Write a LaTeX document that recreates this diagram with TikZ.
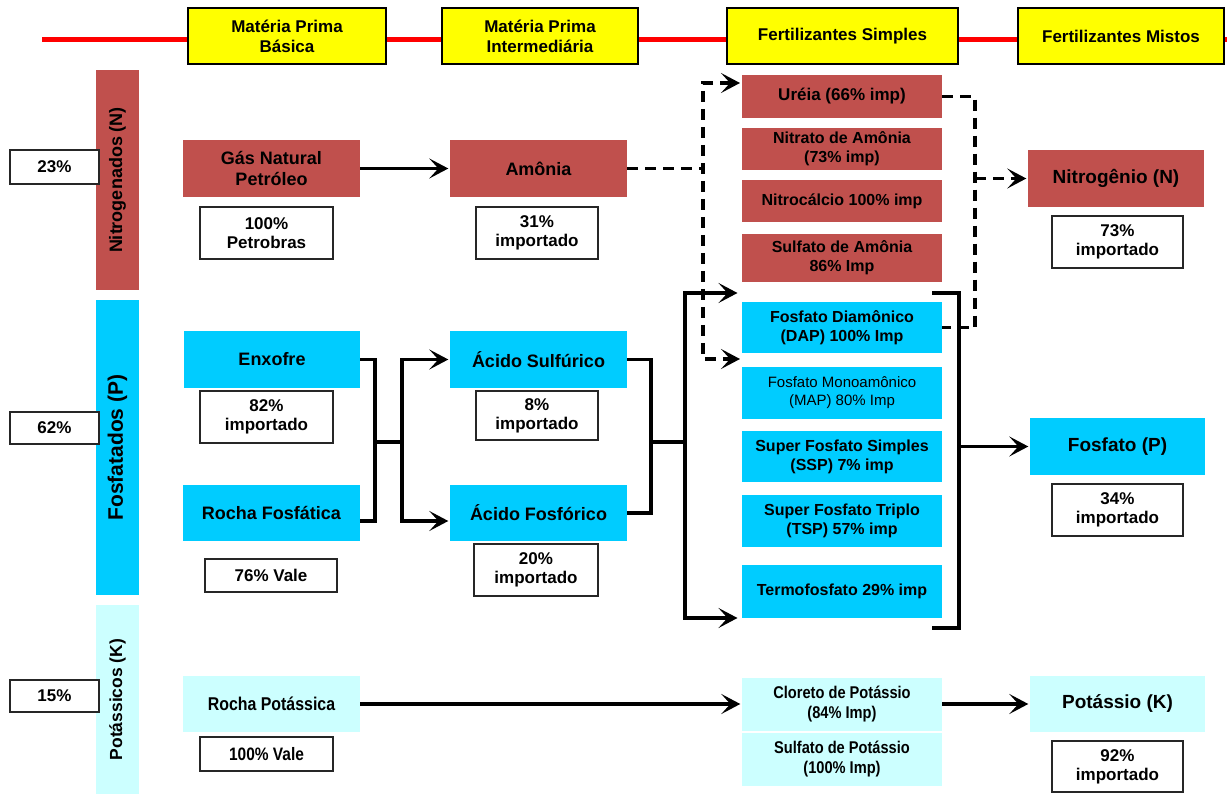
\documentclass[tikz,border=0pt]{standalone}
\usepackage{fontspec}
\setmainfont{Liberation Sans}
\newfontfamily\narrowfont[FakeStretch=0.86]{Liberation Sans}
\usetikzlibrary{arrows.meta}
\definecolor{nred}{RGB}{192,80,77}
\definecolor{pcyan}{RGB}{0,204,255}
\definecolor{klight}{RGB}{204,255,255}
\definecolor{hyel}{RGB}{255,255,0}
\definecolor{rline}{RGB}{255,0,0}
\newcommand\fsz[2]{\fontsize{#1}{#2}\selectfont}
\begin{document}
\begin{tikzpicture}[x=1pt,y=-1pt,
  hdr/.style={draw=black,line width=1.8pt,fill=hyel,inner sep=0pt,align=center,font=\bfseries\fsz{17}{20}},
  cbox/.style={inner sep=0pt,align=center,minimum width=177pt,minimum height=57pt,font=\bfseries\fsz{18}{21}},
  sbox/.style={inner sep=0pt,align=center,minimum width=200pt,font=\bfseries\fsz{16}{19}},
  rbox/.style={inner sep=0pt,align=center,minimum width=176pt,minimum height=57pt,font=\bfseries\fsz{19}{22}},
  pbox/.style={draw=black!85,line width=1.3pt,fill=white,inner sep=0pt,align=center,font=\bfseries\fsz{17}{19}},
  vbar/.style={rotate=90,inner sep=0pt,minimum height=43pt,align=center},
  conn/.style={line width=3.5pt},
  tipa/.style={-{Stealth[length=19pt,width=20pt,inset=9pt]},shorten >=1.5pt},
  arr/.style={conn,tipa},
  dsh/.style={line width=3.5pt,dash pattern=on 11pt off 7pt},
]
\useasboundingbox (0,0) rectangle (1227,794);
% red timeline
\coordinate (rl) at (42,40);
\coordinate (rr) at (1227,40);
\draw[rline,line width=5pt] (rl) -- (rr);
% headers
\node[hdr,minimum width=198pt,minimum height=56pt] (h1) at (287,36) {Matéria Prima\\Básica};
\node[hdr,minimum width=196pt,minimum height=56pt] (h2) at (540,36) {Matéria Prima\\Intermediária};
\node[hdr,minimum width=231pt,minimum height=56pt] (h3) at (842.5,36) {Fertilizantes Simples};
\node[hdr,minimum width=206pt,minimum height=56pt] (h4) at (1121,36) {Fertilizantes Mistos};
% left bars
\node[vbar,fill=nred,minimum width=220pt,font=\bfseries\fsz{18}{20}] (vN) at (117.5,180) {Nitrogenados (N)};
\node[vbar,fill=pcyan,minimum width=295pt,font=\bfseries\fsz{21}{24}] (vP) at (117.5,447.5) {Fosfatados (P)};
\node[vbar,fill=klight,minimum width=189pt,font=\bfseries\fsz{17.5}{20}] (vK) at (117.5,699.5) {Potássicos (K)};
% left percentages
\node[pbox,minimum width=89pt,minimum height=34pt] (p23) at (54.5,167) {23\%};
\node[pbox,minimum width=89pt,minimum height=32pt] (p62) at (54.5,428) {62\%};
\node[pbox,minimum width=89pt,minimum height=32pt] (p15) at (54.5,696) {15\%};
% N row
\node[cbox,fill=nred] (gas) at (271.5,168.5) {Gás Natural\\Petróleo};
\node[pbox,minimum width=133pt,minimum height=52pt] (gasP) at (266.5,233) {100\%\\Petrobras};
\node[cbox,fill=nred] (amo) at (538.5,168.5) {Amônia};
\node[pbox,minimum width=122pt,minimum height=52pt] (amoP) at (537,233) {31\%\\importado};
% simple fertilizers
\node[sbox,fill=nred,minimum height=43pt,font=\bfseries\fsz{17}{20}] (ure) at (842,96.5) {Uréia (66\% imp)};
\node[sbox,fill=nred,minimum height=42pt] (nit) at (842,149) {Nitrato de Amônia\\(73\% imp)};
\node[sbox,fill=nred,minimum height=42pt] (nca) at (842,201) {Nitrocálcio 100\% imp};
\node[sbox,fill=nred,minimum height=48pt] (sam) at (842,258) {Sulfato de Amônia\\86\% Imp};
\node[sbox,fill=pcyan,minimum height=51pt] (dap) at (842,327.5) {Fosfato Diamônico\\(DAP) 100\% Imp};
\node[sbox,fill=pcyan,minimum height=52pt,font=\fsz{15}{18}] (map) at (842,393) {Fosfato Monoamônico\\(MAP) 80\% Imp};
\node[sbox,fill=pcyan,minimum height=51pt] (ssp) at (842,456.5) {Super Fosfato Simples\\(SSP) 7\% imp};
\node[sbox,fill=pcyan,minimum height=52pt] (tsp) at (842,521) {Super Fosfato Triplo\\(TSP) 57\% imp};
\node[sbox,fill=pcyan,minimum height=53pt] (ter) at (842,591.5) {Termofosfato 29\% imp};
\node[sbox,fill=klight,minimum height=53pt,font=\narrowfont\bfseries\fsz{17}{20}] (clo) at (842,704) {Cloreto de Potássio\\(84\% Imp)};
\node[sbox,fill=klight,minimum height=53pt,font=\narrowfont\bfseries\fsz{17}{20}] (sul) at (842,759.5) {Sulfato de Potássio\\(100\% Imp)};
% P row
\node[cbox,fill=pcyan,minimum width=176pt] (enx) at (272,359.5) {Enxofre};
\node[pbox,minimum width=133pt,minimum height=52pt] (enxP) at (266.5,417) {82\%\\importado};
\node[cbox,fill=pcyan,minimum height=56pt] (roc) at (271.5,513) {Rocha Fosfática};
\node[pbox,minimum width=132pt,minimum height=33pt] (rocP) at (271,575.5) {76\% Vale};
\node[cbox,fill=pcyan] (aso) at (538.5,359.5) {Ácido Sulfúrico};
\node[pbox,minimum width=122pt,minimum height=49pt] (asoP) at (537,415.5) {8\%\\importado};
\node[cbox,fill=pcyan,minimum height=56pt] (afo) at (538.5,513) {Ácido Fosfórico};
\node[pbox,minimum width=124pt,minimum height=52pt] (afoP) at (536,570) {20\%\\importado};
% K row
\node[cbox,fill=klight,minimum height=56pt,font=\narrowfont\bfseries\fsz{18.5}{21}] (rpk) at (271.5,704) {Rocha Potássica};
\node[pbox,minimum width=133pt,minimum height=34pt,font=\narrowfont\bfseries\fsz{18}{20}] (rpkP) at (266.5,754) {100\% Vale};
% mixed fertilizers
\node[rbox,fill=nred] (nN) at (1116,178.5) {Nitrogênio (N)};
\node[pbox,minimum width=131pt,minimum height=52pt] (nNP) at (1117.5,242) {73\%\\importado};
\node[rbox,fill=pcyan,minimum width=175pt] (fP) at (1117.5,446.5) {Fosfato (P)};
\node[pbox,minimum width=131pt,minimum height=52pt] (fPP) at (1117.5,510) {34\%\\importado};
\node[rbox,fill=klight,minimum width=175pt,minimum height=56pt] (kK) at (1117.5,704) {Potássio (K)};
\node[pbox,minimum width=131pt,minimum height=51pt] (kKP) at (1117.5,766.5) {92\%\\importado};
% N connectors
\draw[arr] (gas) -- (amo);
\coordinate (dA) at (703,168.5);
\coordinate (dT) at (703,83);
\coordinate (uT) at (740,83);
\coordinate (dB) at (703,359);
\coordinate (uB) at (740,359);
\draw[dsh] (amo.east) -- (dA);
\draw[dsh,{Stealth[length=19pt,width=20pt,inset=9pt]}-{Stealth[length=19pt,width=20pt,inset=9pt]}] (uT) -- (dT) -- (dB) -- (uB);
\coordinate (rB) at (975,327.5);
\coordinate (rM) at (975,178.5);
\draw[dsh] (ure.east) -| (rB) -- (dap.east);
\draw[dsh,tipa] (rM) -- (nN.west);
% P connectors
\coordinate (j1) at (375,442);
\coordinate (j2) at (402,442);
\draw[conn] (enx.east) -| (j1) |- ([yshift=-8pt]roc.east);
\draw[conn] (j1) -- (j2);
\draw[arr] (j2) |- (aso.west);
\draw[arr] (j2) |- ([yshift=-8pt]afo.west);
\coordinate (j3) at (651,442);
\coordinate (j4) at (685,442);
\draw[conn] (aso.east) -| (j3) |- (afo.east);
\draw[conn] (j3) -- (j4);
\coordinate (sT) at (739,293);
\coordinate (sB) at (739,618);
\draw[arr] (j4) |- (sT);
\draw[arr] (j4) |- (sB);
\coordinate (k1) at (932,293);
\coordinate (k2) at (959,446.5);
\coordinate (k3) at (932,628);
\draw[conn] (k1) -| (k2) |- (k3);
\draw[arr] (k2) -- (fP.west);
% K connectors
\draw[arr] (rpk) -- (clo);
\draw[arr] (clo) -- (kK);
\end{tikzpicture}
\end{document}
